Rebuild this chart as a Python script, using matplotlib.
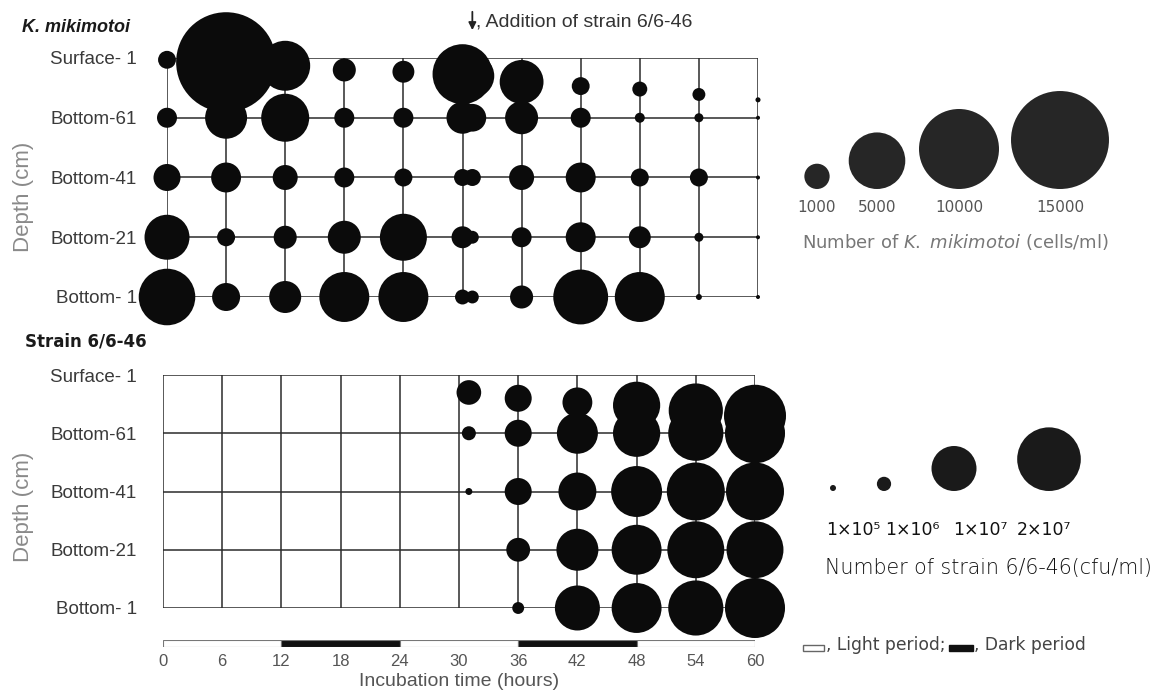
import numpy as np
import matplotlib.pyplot as plt
from matplotlib.patches import Rectangle

plt.rcParams['font.family'] = ['Liberation Sans', 'DejaVu Sans']
plt.rcParams['mathtext.fontset'] = 'custom'
plt.rcParams['mathtext.rm'] = 'DejaVu Sans'
plt.rcParams['mathtext.it'] = 'DejaVu Sans:italic'

W, H, DPI = 1168, 698, 100

depth_labels = ['Surface- 1', 'Bottom-61', 'Bottom-41', 'Bottom-21', 'Bottom- 1']
grid_times = [0, 6, 12, 18, 24, 30, 36, 42, 48, 54, 60]

# K. mikimotoi (cells/ml); strain added at 31 h, hence the extra sample
k_times = [0, 6, 12, 18, 24, 30, 31, 36, 42, 48, 54, 60]
k_surface = [500, 15600, 3900, 830, 750, 5600, 3000, 3000, 500, 350, 260, 40]
k_bottom61 = [625, 2750, 3600, 625, 625, 1600, 1200, 1700, 625, 156, 127, 25]
k_bottom41 = [1140, 1400, 977, 625, 506, 450, 450, 977, 1400, 506, 506, 25]
k_bottom21 = [3160, 506, 830, 1700, 3450, 750, 260, 625, 1400, 750, 127, 25]
k_bottom1 = [5000, 1225, 1600, 3900, 3900, 350, 260, 830, 4700, 3900, 56, 25]

# the surface sample sits a little lower as the water level falls (row units)
surface_drop = [0.03, 0.07, 0.13, 0.2, 0.23, 0.27, 0.3, 0.4, 0.47, 0.52, 0.61, 0.7]

# strain 6/6-46 (cfu/ml)
s_times = [31, 36, 42, 48, 54, 60]
s_surface = [3.0e6, 3.6e6, 4.4e6, 1.1e7, 1.45e7, 1.9e7]
s_bottom61 = [9.7e5, 3.6e6, 8.3e6, 1.1e7, 1.5e7, 1.78e7]
s_bottom41 = [2.4e5, 3.6e6, 7.1e6, 1.28e7, 1.66e7, 1.66e7]
s_bottom21 = [0, 2.8e6, 8.7e6, 1.23e7, 1.6e7, 1.6e7]
s_bottom1 = [0, 7.0e5, 1.0e7, 1.23e7, 1.5e7, 1.78e7]

k_legend = [1000, 5000, 10000, 15000]
s_legend = [1e5, 1e6, 1e7, 2e7]
s_legend_labels = ['1×10⁵', '1×10⁶', '1×10⁷', '2×10⁷']

period_start = [0, 12, 24, 36, 48]
period_dark = [False, True, False, True, False]

LINE = '#2b2b2b'
DOT = '#0b0b0b'
GREY = '#555555'


def k_diam(v):
    return 0.8 * np.sqrt(np.asarray(v, dtype=float))


def s_diam(v):
    return 0.01423 * np.sqrt(np.asarray(v, dtype=float))


def area(d_px):
    return (np.asarray(d_px) * 72 / DPI) ** 2


def setup_panel(ax, pad):
    ax.set_xlim(0, 60)
    ax.set_ylim(0, 4)
    ax.vlines(grid_times, 0, 4, color=LINE, lw=1.1, zorder=1)
    ax.hlines(range(5), 0, 60, color=LINE, lw=1.1, zorder=1)
    for sp in ax.spines.values():
        sp.set_visible(False)
    ax.set_xticks([])
    ax.set_yticks(range(5))
    ax.set_yticklabels(depth_labels[::-1])
    ax.tick_params(axis='y', length=0, pad=pad, labelsize=13.5, labelcolor='#3a3a3a')
    ax.patch.set_alpha(0)


def draw_rows(ax, times, rows, diam):
    drop = dict(zip(k_times, surface_drop))
    for i, vals in enumerate(rows):
        if i == 0:
            ys = [4 - drop[t] for t in times]
        else:
            ys = [4 - i] * len(times)
        ax.scatter(times, ys, s=area(diam(vals)), c=DOT, lw=0,
                   clip_on=False, zorder=3)


fig = plt.figure(figsize=(W / DPI, H / DPI), dpi=DPI)

# upper panel: K. mikimotoi
ax_k = fig.add_axes([167 / W, 1 - 297 / H, 591 / W, 239 / H])
setup_panel(ax_k, 21.5)
draw_rows(ax_k, k_times, [k_surface, k_bottom61, k_bottom41, k_bottom21, k_bottom1], k_diam)
ax_k.annotate('', xy=(31, 4.42), xytext=(31, 4.82),
              arrowprops=dict(arrowstyle='-|>', color='#222222', lw=1.3, mutation_scale=11),
              annotation_clip=False)
ax_k.text(31.4, 4.6, ', Addition of strain 6/6-46', fontsize=14, color='#333333',
          va='center', ha='left', clip_on=False)

# lower panel: strain 6/6-46
ax_s = fig.add_axes([163 / W, 1 - 608 / H, 592 / W, 233 / H])
setup_panel(ax_s, 18.7)
draw_rows(ax_s, s_times, [s_surface, s_bottom61, s_bottom41, s_bottom21, s_bottom1], s_diam)

# light / dark bar with the time axis
ax_p = fig.add_axes([163 / W, 1 - 647 / H, 592 / W, 7 / H])
ax_p.set_xlim(0, 60)
ax_p.set_ylim(0, 1)
ax_p.barh(0.5, 12, left=period_start, height=1,
          color=['#111111' if d else 'white' for d in period_dark],
          edgecolor='#777777', lw=0.8)
for sp in ax_p.spines.values():
    sp.set_visible(False)
ax_p.set_yticks([])
ax_p.set_xticks(grid_times)
ax_p.set_xticklabels([str(t) for t in grid_times])
ax_p.tick_params(axis='x', length=0, pad=5, labelsize=12, labelcolor=GREY)
ax_p.set_xlabel('Incubation time (hours)', fontsize=14, color=GREY, labelpad=3)

# titles and axis names
fig.text(22 / W, 1 - 27 / H, 'K. mikimotoi', fontsize=13, fontweight='bold',
         fontstyle='italic', color='#1a1a1a', va='center', ha='left')
fig.text(25 / W, 1 - 341 / H, 'Strain 6/6-46', fontsize=12, fontweight='bold',
         family='DejaVu Sans', color='#1a1a1a', va='center', ha='left')
fig.text(24 / W, 1 - 197 / H, 'Depth (cm)', fontsize=16, rotation=90,
         color='#8a8a8a', va='center', ha='center')
fig.text(23 / W, 1 - 507 / H, 'Depth (cm)', fontsize=16, rotation=90,
         color='#8a8a8a', va='center', ha='center')

# size keys, drawn in pixel units
ov = fig.add_axes([0, 0, 1, 1])
ov.set_xlim(0, W)
ov.set_ylim(H, 0)
ov.axis('off')
ov.patch.set_alpha(0)

kx = np.array([817, 877, 959, 1060])
kd = k_diam(k_legend)
ov.scatter(kx, 189 - kd / 2, s=area(kd), c='#262626', lw=0)
for x, v in zip(kx, k_legend):
    ov.text(x, 208, str(v), ha='center', va='center', fontsize=11,
            family='DejaVu Sans', color=GREY)
ov.text(802, 242, r'Number of $\it{K.\ mikimotoi}$ (cells/ml)', ha='left', va='center',
        fontsize=13, family='DejaVu Sans', color='#777777')

sx = np.array([833, 884, 954, 1049])
sd = np.maximum(s_diam(s_legend), 6)
ov.scatter(sx, 491 - sd / 2, s=area(sd), c='#1a1a1a', lw=0)
for x, lab in zip([853, 912, 980, 1044], s_legend_labels):
    ov.text(x, 530, lab, ha='center', va='center', fontsize=12.5,
            family='DejaVu Sans', color='#111111')
ov.text(825, 568, 'Number of strain 6/6-46(cfu/ml)', ha='left', va='center',
        fontsize=14.8, family='DejaVu Sans', fontweight='light', color='#111111')

# light / dark key
ov.add_patch(Rectangle((803, 645), 21, 6, facecolor='white', edgecolor='#666666', lw=1.0))
ov.text(826, 645, ', Light period;', ha='left', va='center', fontsize=12.3,
        family='DejaVu Sans', color='#444444')
ov.add_patch(Rectangle((949, 645), 24, 6, facecolor='#111111', edgecolor='#111111', lw=1.0))
ov.text(974, 645, ', Dark period', ha='left', va='center', fontsize=12.3,
        family='DejaVu Sans', color='#444444')

fig.savefig('out.png', dpi=DPI)
